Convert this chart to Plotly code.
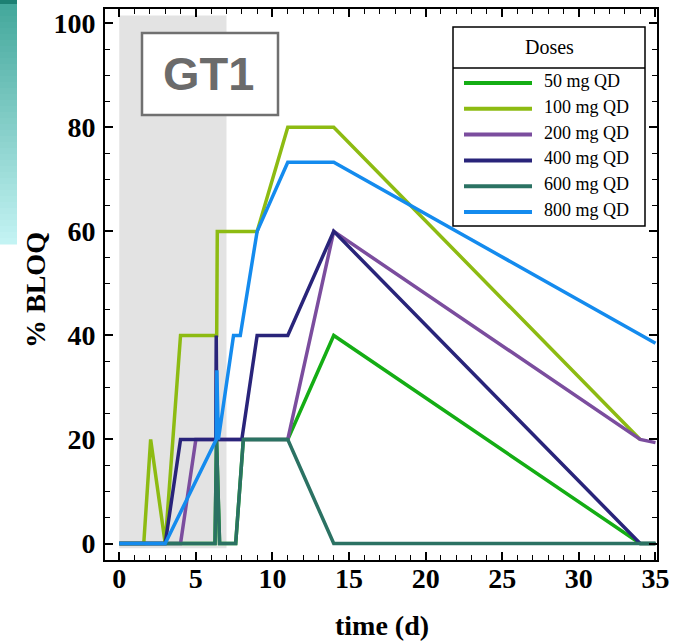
import plotly.graph_objects as go

# ---- data -----------------------------------------------------------------
doses = ["50 mg QD", "100 mg QD", "200 mg QD", "400 mg QD", "600 mg QD", "800 mg QD"]
colors = ["#14ad14", "#8dbb12", "#7b4d9e", "#29247a", "#2b7263", "#148bee"]

days_50 = [0, 6.25, 6.35, 6.55, 7.6, 8.1, 11, 14, 34, 35]
bloq_50 = [0, 0, 20, 0, 0, 20, 20, 40, 0, 0]

days_100 = [0, 1.6, 2.05, 3, 4, 6.36, 6.4, 9, 11, 14, 34]
bloq_100 = [0, 0, 20, 0, 40, 40, 60, 60, 80, 80, 20]

days_200 = [0, 4, 5, 11, 14, 34, 35]
bloq_200 = [0, 0, 20, 20, 60, 20, 19.4]

days_400 = [0, 3, 4, 6.3, 6.33, 6.38, 8, 9, 11, 14, 34, 35]
bloq_400 = [0, 0, 20, 20, 40, 20, 20, 40, 40, 60, 0, 0]

days_600 = [0, 6.25, 6.35, 6.55, 7.6, 8.1, 11, 14, 35]
bloq_600 = [0, 0, 20, 0, 0, 20, 20, 0, 0]

days_800 = [0, 3, 6.33, 6.37, 6.47, 7.46, 7.9, 9, 11, 14, 35]
bloq_800 = [0, 0, 20, 33.3, 20, 40, 40, 60, 73.3, 73.3, 38.5]

series_days = [days_50, days_100, days_200, days_400, days_600, days_800]
series_bloq = [bloq_50, bloq_100, bloq_200, bloq_400, bloq_600, bloq_800]

x_ticks = [0, 5, 10, 15, 20, 25, 30, 35]
y_ticks = [0, 20, 40, 60, 80, 100]
dosing_period = [0, 7]
panel_label = "GT1"
legend_title = "Doses"

# ---- layout geometry (pixels) --------------------------------------------
W, H = 681, 642
L, R, T, B = 105, 24, 9, 82
PW, PH = W - L - R, H - T - B


def px(x):
    return (x - L) / PW


def py(y):
    return (H - B - y) / PH


serif = "Liberation Serif"
fig = go.Figure()

for name, col, d, v in zip(doses, colors, series_days, series_bloq):
    fig.add_trace(go.Scatter(x=d, y=v, mode="lines", name=name,
                             line=dict(color=col, width=3.5),
                             showlegend=False))

shapes = []
# dosing period shading
shapes.append(dict(type="rect", xref="x", yref="y", layer="below",
                   x0=dosing_period[0], x1=dosing_period[1], y0=-0.9, y1=101.5,
                   fillcolor="#e3e3e3", line=dict(width=0)))
# panel label box
shapes.append(dict(type="rect", xref="paper", yref="paper", layer="above",
                   x0=px(142), x1=px(278), y0=py(115), y1=py(33),
                   fillcolor="white", line=dict(color="#707070", width=2.5)))

# teal gradient strip in the top-left corner
top_c = (0x44, 0xa8, 0x9c)
bot_c = (0xc3, 0xf3, 0xf3)
n = 40
y_start, y_end = 4, 244
shapes.append(dict(type="rect", xref="paper", yref="paper", layer="above",
                   x0=px(0), x1=px(17), y0=py(y_start), y1=py(0),
                   fillcolor="#1d8073", line=dict(width=0)))
for i in range(n):
    f = i / (n - 1)
    c = tuple(round(a + (b - a) * f) for a, b in zip(top_c, bot_c))
    ya = y_start + (y_end - y_start) * i / n
    yb = y_start + (y_end - y_start) * (i + 1) / n
    shapes.append(dict(type="rect", xref="paper", yref="paper", layer="above",
                       x0=px(0), x1=px(17), y0=py(yb + 0.5), y1=py(ya),
                       fillcolor="rgb(%d,%d,%d)" % c, line=dict(width=0)))

# legend box
lg_l, lg_r, lg_t, lg_b, lg_sep = 453, 645, 27, 226, 68
shapes.append(dict(type="rect", xref="paper", yref="paper", layer="above",
                   x0=px(lg_l), x1=px(lg_r), y0=py(lg_b), y1=py(lg_t),
                   fillcolor="white", line=dict(color="black", width=1.5)))
shapes.append(dict(type="line", xref="paper", yref="paper", layer="above",
                   x0=px(lg_l), x1=px(lg_r), y0=py(lg_sep), y1=py(lg_sep),
                   line=dict(color="black", width=1.5)))

annotations = []
row0, row_h = 83, 25.8
for i, (name, col) in enumerate(zip(doses, colors)):
    yy = row0 + i * row_h
    shapes.append(dict(type="line", xref="paper", yref="paper", layer="above",
                       x0=px(464), x1=px(532), y0=py(yy), y1=py(yy),
                       line=dict(color=col, width=4)))
    annotations.append(dict(xref="paper", yref="paper", x=px(542), y=py(yy - 2),
                            xanchor="left", yanchor="middle", showarrow=False,
                            text=name, font=dict(family=serif, size=18, color="black")))

annotations.append(dict(xref="paper", yref="paper", x=px((lg_l + lg_r) / 2),
                        y=py((lg_t + lg_sep) / 2), xanchor="center", yanchor="middle",
                        showarrow=False, text=legend_title,
                        font=dict(family=serif, size=20, color="black")))

annotations.append(dict(xref="paper", yref="paper", x=px(208), y=py(74),
                        xanchor="center", yanchor="middle", showarrow=False,
                        text=panel_label,
                        font=dict(family="Liberation Sans", size=47, color="#6b6b6b",
                                  weight="bold")))

# axis titles
annotations.append(dict(xref="paper", yref="paper", x=px(382), y=py(625),
                        xanchor="center", yanchor="middle", showarrow=False,
                        text="time (d)",
                        font=dict(family=serif, size=28, color="black", weight="bold")))
annotations.append(dict(xref="paper", yref="paper", x=px(35), y=py(290),
                        xanchor="center", yanchor="middle", showarrow=False,
                        text="% BLOQ", textangle=-90,
                        font=dict(family=serif, size=28, color="black", weight="bold")))

tickfont = dict(family=serif, size=28, color="black", weight="bold")
axis_common = dict(showline=True, linecolor="black", linewidth=2, mirror="ticks",
                   ticks="inside", ticklen=8, tickwidth=1.6, tickcolor="black",
                   showgrid=False, zeroline=False, tickfont=tickfont)

fig.update_layout(
    width=W, height=H,
    margin=dict(l=L, r=R, t=T, b=B, autoexpand=False),
    paper_bgcolor="white", plot_bgcolor="white",
    xaxis=dict(range=[-0.93, 35.1], tickvals=x_ticks,
               minor=dict(dtick=1, ticks="inside", ticklen=5, tickwidth=1.2,
                          tickcolor="black", showgrid=False),
               ticklabelstandoff=-8, **axis_common),
    yaxis=dict(range=[-3.17, 102.75], tickvals=y_ticks,
               minor=dict(dtick=5, ticks="inside", ticklen=5, tickwidth=1.2,
                          tickcolor="black", showgrid=False),
               ticklabelstandoff=2, **axis_common),
    shapes=shapes,
    annotations=annotations,
    showlegend=False,
)

fig.write_html("out.html")
